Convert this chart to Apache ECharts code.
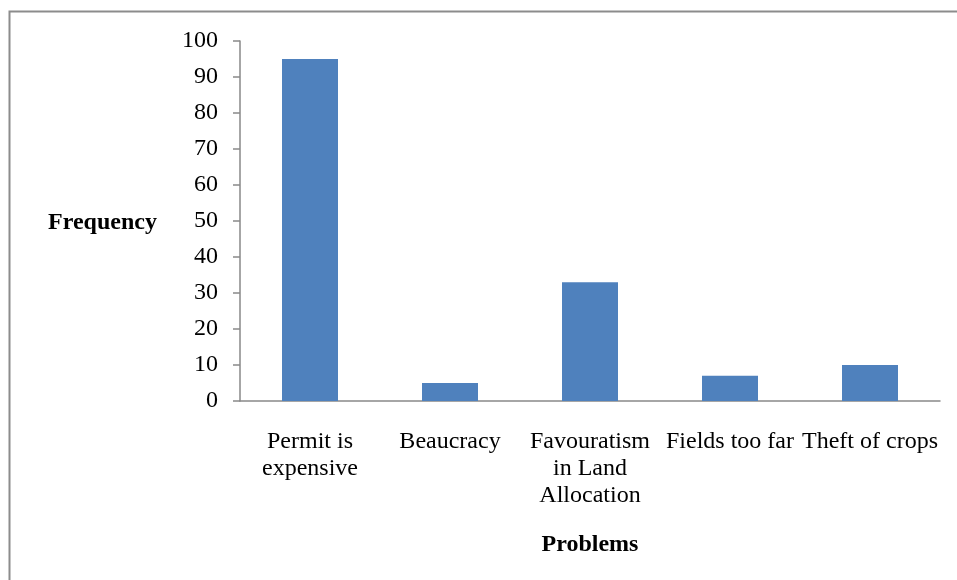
<!DOCTYPE html>
<html>
<head>
<meta charset="utf-8">
<script src="https://cdn.jsdelivr.net/npm/echarts@6/dist/echarts.min.js"></script>
<style>
  html, body { margin: 0; padding: 0; background: #fff; }
  #chart { width: 957px; height: 580px; }
</style>
</head>
<body>
<div id="chart"></div>
<script>
// problem categories (x axis)
const categories = [
  'Permit is\nexpensive',
  'Beaucracy',
  'Favouratism\nin Land\nAllocation',
  'Fields too far',
  'Theft of crops'
];
// frequency per problem
const frequency = [95, 5, 33, 7, 10];

const chart = echarts.init(document.getElementById('chart'));
const font = '"Liberation Serif", "Times New Roman", serif';
const axisGrey = '#898989';

chart.setOption({
  animation: false,
  graphic: [
    {
      type: 'rect',
      shape: { x: 9.5, y: 11.5, width: 1000, height: 1000 },
      style: { fill: 'none', stroke: '#8c8c8c', lineWidth: 2 }
    },
    {
      type: 'text',
      left: 48,
      top: 211,
      style: { text: 'Frequency', font: 'bold 24px ' + font, fill: '#000' }
    }
  ],
  grid: { left: 240, right: 17, top: 41, bottom: 179 },
  xAxis: {
    type: 'category',
    data: categories,
    name: 'Problems',
    nameLocation: 'middle',
    nameGap: 132,
    nameTextStyle: { fontFamily: font, fontSize: 24, fontWeight: 'bold', color: '#000' },
    axisLine: { lineStyle: { color: axisGrey, width: 1.5 } },
    axisTick: { length: 8, lineStyle: { color: axisGrey, width: 1.5 } },
    axisLabel: {
      fontFamily: font, fontSize: 24, color: '#000',
      margin: 27, lineHeight: 27, interval: 0
    }
  },
  yAxis: {
    type: 'value',
    min: 0,
    max: 100,
    interval: 10,
    axisLine: { show: true, lineStyle: { color: axisGrey, width: 1.5 } },
    axisTick: { show: true, length: 7, lineStyle: { color: axisGrey, width: 1.5 } },
    splitLine: { show: false },
    axisLabel: { fontFamily: font, fontSize: 24, color: '#000', margin: 22 }
  },
  series: [
    {
      type: 'bar',
      data: frequency,
      barWidth: '40%',
      itemStyle: { color: '#4F81BD' }
    }
  ]
});
</script>
</body>
</html>
